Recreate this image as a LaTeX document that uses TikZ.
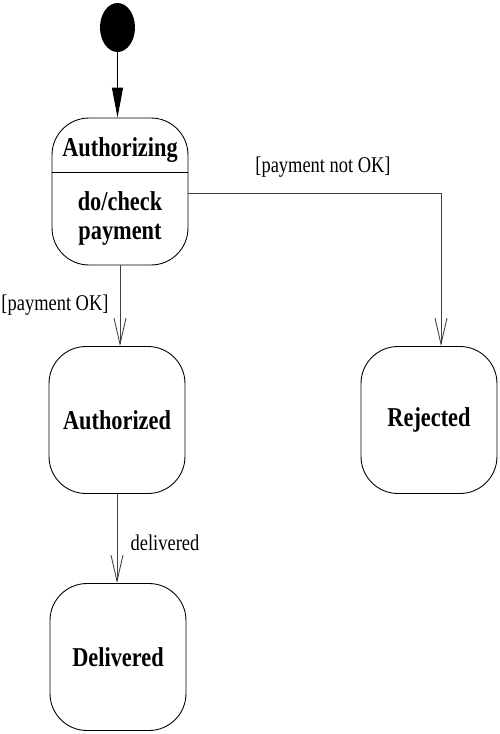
\documentclass[tikz,border=0pt]{standalone}
\usepackage{fontspec}
\setmainfont{Liberation Serif}[FakeStretch=0.82]
\usetikzlibrary{arrows.meta,calc,shapes.geometric}
\begin{document}
\begin{tikzpicture}[x=0.02cm,y=-0.02cm,
  state/.style={draw, rounded corners=0.74cm, minimum width=2.72cm, minimum height=2.94cm,
                inner sep=0pt, line width=0.5pt,
                font=\bfseries\fontsize{15.5}{17}\selectfont},
  statetext/.style={align=center, inner sep=0pt,
                font=\bfseries\fontsize{15.5}{16.5}\selectfont},
  lbl/.style={inner sep=0pt, font=\fontsize{12.8}{14}\selectfont},
  trans/.style={draw=black!75, line width=0.5pt,
                -{Straight Barb[length=0.52cm,width=0.24cm]}}]
\useasboundingbox (0,0) rectangle (500,734);

% initial state
\node[ellipse, fill=black, minimum width=0.7cm, minimum height=0.98cm, inner sep=0pt] (init) at (117.5,27.5) {};

% states
\node[state] (auth) at (120,191.5) {};
\coordinate (div) at (120,172);
\draw[line width=0.5pt] (auth.west |- div) -- (auth.east |- div);
\node[statetext] (authname) at (120,150) {Authorizing};
\node[statetext] (authdo) at (120,218) {do/check\\payment};

\node[state] (authd) at (117,420) {Authorized};
\node[state] (rej) at (429,420) {Rejected};
\node[state] (deliv) at (118,657) {Delivered};

% initial transition
\draw[line width=0.5pt, -{Triangle[length=0.6cm,width=0.22cm]}] (init.south) -- (init.south |- auth.north);

% transitions
\draw[trans] (auth.south) -- (auth.south |- authd.north);
\draw[trans] ([yshift=-0.03cm]auth.east) -| ([xshift=0.24cm]rej.north);
\draw[trans] (authd.south) -- (authd.south |- deliv.north);

% labels
\node[lbl] (l1) at (323,167) {[payment not OK]};
\node[lbl] (l2) at (55,305) {[payment OK]};
\node[lbl] (l3) at (165,543) {delivered};
\end{tikzpicture}
\end{document}
